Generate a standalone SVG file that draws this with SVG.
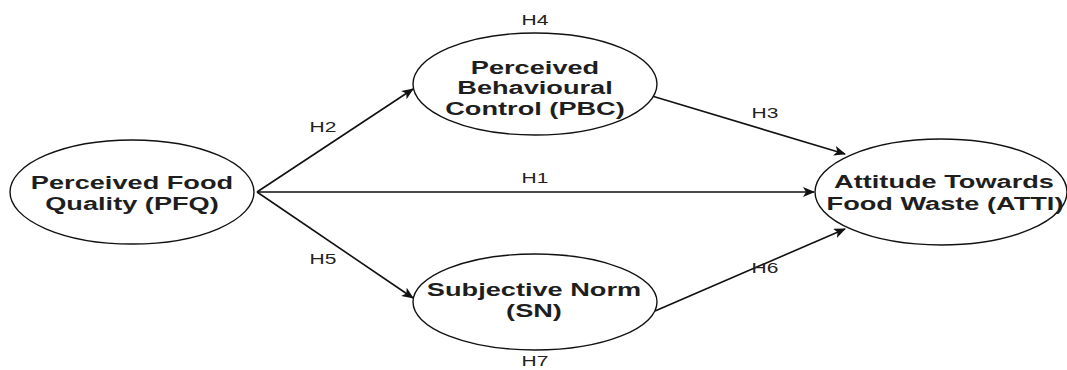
<svg xmlns="http://www.w3.org/2000/svg" width="1067" height="370" viewBox="0 0 1067 370">
<style>
.node ellipse{fill:#fff;stroke:#111;stroke-width:1.4}
.nt{font-family:"Liberation Sans",Arial,sans-serif;font-weight:bold;font-size:19px;fill:#1e1e1e;text-anchor:middle}
.lbl{font-family:"Liberation Sans",Arial,sans-serif;font-size:14px;fill:#222;text-anchor:middle}
.edge{stroke:#111;stroke-width:1.6;fill:none;marker-end:url(#arr)}
</style>
<defs>
<marker id="arr" viewBox="0 0 12 10" refX="11" refY="5" markerWidth="12" markerHeight="10" markerUnits="userSpaceOnUse" orient="auto">
<path d="M0,0 L12,5 L0,10 L3,5 z" fill="#111"/>
</marker>
</defs>
<rect width="1067" height="370" fill="#fff"/>
<g id="connectors">
<line class="edge" x1="257" y1="192" x2="413" y2="89"/>
<line class="edge" x1="257" y1="192" x2="413" y2="298"/>
<line class="edge" x1="257" y1="192" x2="814" y2="192"/>
<line class="edge" x1="652" y1="96" x2="845" y2="154"/>
<line class="edge" x1="655" y1="311" x2="845" y2="229"/>
<text class="lbl" transform="translate(323,132) scale(1.5,1)">H2</text>
<text class="lbl" transform="translate(323,264) scale(1.5,1)">H5</text>
<text class="lbl" transform="translate(535,183) scale(1.5,1)">H1</text>
<text class="lbl" transform="translate(765,118) scale(1.5,1)">H3</text>
<text class="lbl" transform="translate(765,273) scale(1.5,1)">H6</text>
</g>
<g id="pfq" class="node">
<ellipse cx="132" cy="192" rx="122" ry="52"/>
<text class="nt" transform="translate(132,189) scale(1.43,1)">Perceived Food</text>
<text class="nt" transform="translate(132,210) scale(1.43,1)">Quality (PFQ)</text>
</g>
<g id="pbc" class="node">
<ellipse cx="535" cy="84" rx="122" ry="51"/>
<text class="lbl" transform="translate(535,25) scale(1.5,1)">H4</text>
<text class="nt" transform="translate(535,74) scale(1.43,1)">Perceived</text>
<text class="nt" transform="translate(535,94) scale(1.43,1)">Behavioural</text>
<text class="nt" transform="translate(535,115) scale(1.43,1)">Control (PBC)</text>
</g>
<g id="sn" class="node">
<ellipse cx="535" cy="302" rx="122" ry="48"/>
<text class="nt" transform="translate(534,296) scale(1.43,1)">Subjective Norm</text>
<text class="nt" transform="translate(534,317) scale(1.43,1)">(SN)</text>
<text class="lbl" transform="translate(535,366) scale(1.5,1)">H7</text>
</g>
<g id="atti" class="node">
<ellipse cx="941" cy="192" rx="126" ry="53"/>
<text class="nt" transform="translate(944,188) scale(1.43,1)">Attitude Towards</text>
<text class="nt" transform="translate(945,210) scale(1.43,1)">Food Waste (ATTI)</text>
</g>
</svg>
